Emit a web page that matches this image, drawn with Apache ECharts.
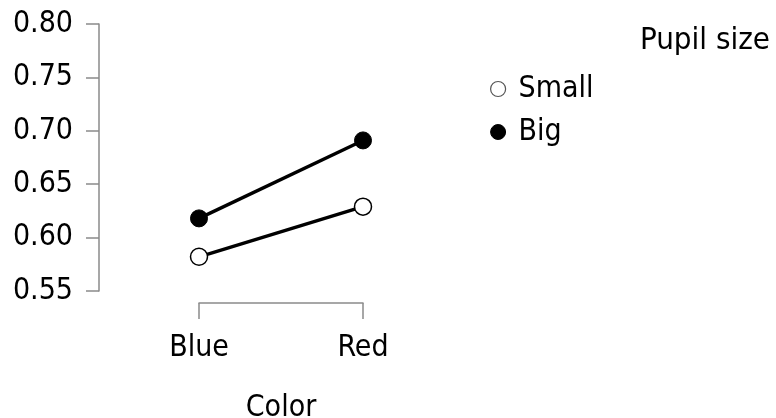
<!DOCTYPE html>
<html>
<head>
<meta charset="utf-8">
<script src="https://cdn.jsdelivr.net/npm/echarts@6/dist/echarts.min.js"></script>
<style>
  html, body { margin: 0; padding: 0; background: #fff; }
  #chart { width: 776px; height: 418px; }
</style>
</head>
<body>
<div id="chart"></div>
<script>
// Proportion by stimulus colour, split by pupil size
const colors = ['Blue', 'Red'];
const smallValues = [0.582, 0.629];
const bigValues = [0.618, 0.691];
const yTicks = [0.55, 0.60, 0.65, 0.70, 0.75, 0.80];

const FONT = '"DejaVu Sans Condensed", "DejaVu Sans"';
const FS = 30;
const chart = echarts.init(document.getElementById('chart'));

chart.setOption({
  animation: false,
  backgroundColor: '#fff',
  textStyle: { fontFamily: FONT },
  title: {
    text: 'Pupil size',
    right: 1,
    top: 20,
    textStyle: { fontFamily: FONT, fontSize: 31, fontWeight: 'normal', color: '#000' }
  },
  legend: {
    orient: 'vertical',
    left: 485,
    top: 69,
    itemGap: 13,
    itemWidth: 15,
    itemHeight: 15,
    textStyle: { fontFamily: FONT, fontSize: FS, color: '#000', padding: [0, 0, 0, 8] },
    data: [
      { name: 'Small', icon: 'circle', itemStyle: { color: '#fff', borderColor: '#555', borderWidth: 1.2 } },
      { name: 'Big', icon: 'circle', itemStyle: { color: '#000', borderColor: '#000', borderWidth: 1 } }
    ]
  },
  grid: { left: 199, right: 413, top: 24, bottom: 127, containLabel: false, outerBoundsMode: 'none' },
  xAxis: {
    type: 'category',
    data: colors,
    boundaryGap: false,
    offset: 12,
    axisLine: { lineStyle: { color: '#8a8a8a', width: 1.5 } },
    axisTick: { length: 16, lineStyle: { color: '#8a8a8a', width: 1.5 } },
    axisLabel: { margin: 30, fontSize: FS, color: '#000', fontFamily: FONT },
    name: 'Color',
    nameLocation: 'middle',
    nameGap: 90,
    nameTextStyle: { fontSize: FS, color: '#000', fontFamily: FONT },
    splitLine: { show: false }
  },
  yAxis: {
    type: 'value',
    min: yTicks[0],
    max: yTicks[yTicks.length - 1],
    interval: 0.05,
    offset: 100,
    axisLine: { show: true, lineStyle: { color: '#8a8a8a', width: 1.5 } },
    axisTick: { show: true, length: 13, lineStyle: { color: '#8a8a8a', width: 1.5 } },
    axisLabel: {
      margin: 26,
      fontSize: FS,
      color: '#000',
      fontFamily: FONT,
      formatter: v => v.toFixed(2)
    },
    splitLine: { show: false }
  },
  series: [
    {
      name: 'Small',
      type: 'line',
      data: smallValues,
      symbol: 'circle',
      symbolSize: 17,
      lineStyle: { color: '#000', width: 3.4 },
      itemStyle: { color: '#fff', borderColor: '#000', borderWidth: 1.5 },
      z: 3
    },
    {
      name: 'Big',
      type: 'line',
      data: bigValues,
      symbol: 'circle',
      symbolSize: 17,
      lineStyle: { color: '#000', width: 3.4 },
      itemStyle: { color: '#000', borderColor: '#000', borderWidth: 1 },
      z: 3
    }
  ]
});
</script>
</body>
</html>
